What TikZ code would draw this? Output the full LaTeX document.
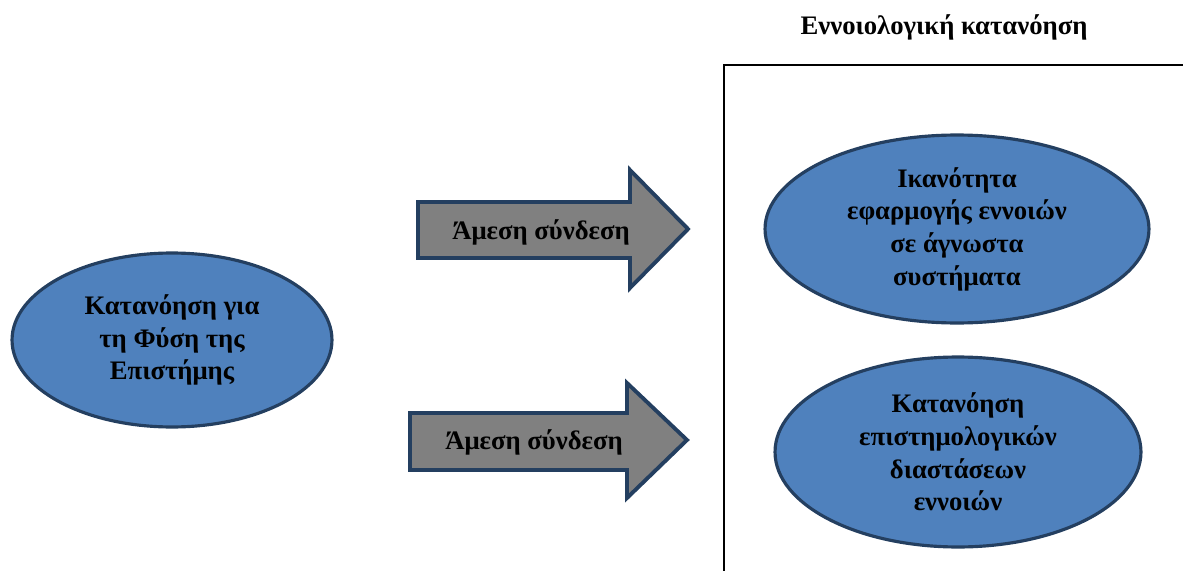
\documentclass[tikz,border=0pt]{standalone}
\usepackage{fontspec}
\setmainfont{Liberation Serif}
\usepackage{xcolor}
\usetikzlibrary{positioning,shapes.geometric}
\definecolor{ovalblue}{HTML}{4F81BD}
\definecolor{navyline}{HTML}{243F60}
\definecolor{arrowgray}{HTML}{808080}

\begin{document}
\begin{tikzpicture}[
  x=0.02cm, y=-0.02cm,
  concept/.style={ellipse, draw=navyline, fill=ovalblue, line width=1.8pt, align=center, inner sep=0pt, font=\fontsize{15.2}{18.6}\selectfont\bfseries},
  linkarrow/.style={draw=navyline, fill=arrowgray, line width=2.2pt, line join=miter},
  lbl/.style={font=\fontsize{15.2}{19}\selectfont\bfseries},
]
\useasboundingbox (0,0) rectangle (1183,571);

% Left concept
\node[concept, minimum width=6.4cm, minimum height=3.48cm] (nos) at (172,340) {Κατανόηση για\\τη Φύση της\\Επιστήμης};

% Frame and title
\draw[line width=1.1pt] (724,580) -- (724,65) -- (1195,65);
\node[lbl] (title) at (944,27) {Εννοιολογική κατανόηση};

% Right concepts
\node[concept, minimum width=7.68cm, minimum height=3.76cm] (apply) at (957,229) {Ικανότητα\\εφαρμογής εννοιών\\σε άγνωστα\\συστήματα};
\node[concept, minimum width=7.32cm, minimum height=3.8cm] (epist) at (958,452) {Κατανόηση\\επιστημολογικών\\διαστάσεων\\εννοιών};

% Arrows
\draw[linkarrow] (418,202) -- (630,202) -- (630,170) -- (688,229) -- (630,288) -- (630,258) -- (418,258) -- cycle;
\node[lbl] (link1) at (541,232) {Άμεση σύνδεση};

\draw[linkarrow] (410,413) -- (627,413) -- (627,383) -- (687,440) -- (627,498) -- (627,470) -- (410,470) -- cycle;
\node[lbl] (link2) at (534,442) {Άμεση σύνδεση};
\end{tikzpicture}
\end{document}
